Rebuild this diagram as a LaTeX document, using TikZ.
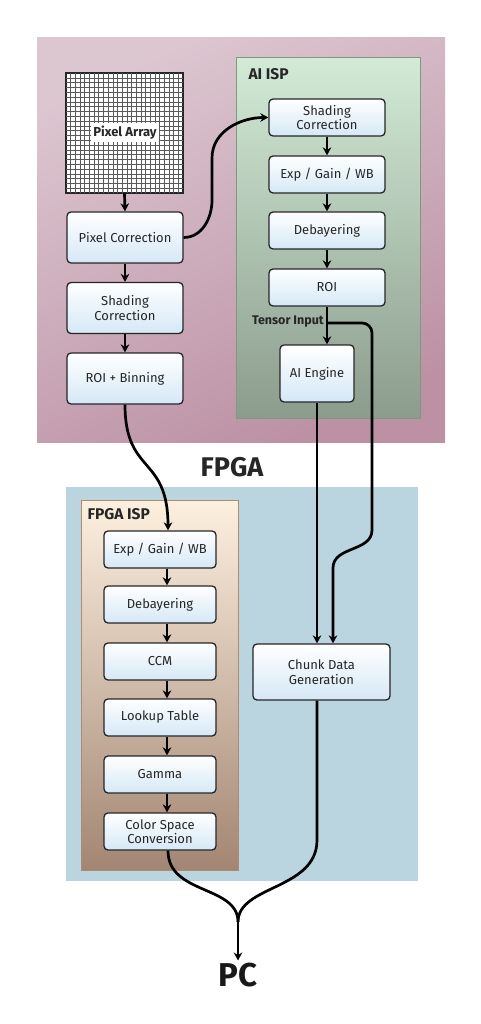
\documentclass[tikz,border=0pt]{standalone}
\usepackage{fontspec}
\setmainfont{Fira Sans}
\usetikzlibrary{arrows.meta}
\definecolor{pinkA}{HTML}{DCC6D0}
\definecolor{pinkB}{HTML}{BC91A4}
\definecolor{aiA}{HTML}{D2EAD6}
\definecolor{aiB}{HTML}{8C9C8C}
\definecolor{aiBorder}{HTML}{7E9882}
\definecolor{bluebg}{HTML}{BAD4E0}
\definecolor{fA}{HTML}{FDF0DF}
\definecolor{fB}{HTML}{A38573}
\definecolor{fBorder}{HTML}{B08A6E}
\definecolor{boxB}{HTML}{D5E8F6}
\tikzset{
  stepbox/.style={draw=black!85, line width=1.3, rounded corners=4, top color=white, bottom color=boxB,
    align=center, font=\fontsize{13}{14.5}\selectfont, inner sep=2, text=black!85},
  lcol/.style={stepbox, minimum width=116, minimum height=51},
  acol/.style={stepbox, minimum width=116, minimum height=37},
  fcol/.style={stepbox, minimum width=112, minimum height=37},
  conn/.style={line width=2.7, black, -{Stealth[length=8,width=8.5]}},
  connplain/.style={line width=2.7, black},
  grouplabel/.style={font=\bfseries\fontsize{15.5}{16}\selectfont, text=black!85, anchor=west},
}
\begin{document}
\begin{tikzpicture}[x=1pt,y=-1pt]
\useasboundingbox[fill=white] (0,0) rectangle (481,1024);
% backgrounds
\shade[top color=pinkA, bottom color=pinkB, shading angle=25] (37,38) rectangle (445,442);
\fill[bluebg] (66,487) rectangle (418,881);
\shade[top color=aiA, bottom color=aiB, draw=aiBorder, line width=1] (236,58) rectangle (420,418);
\shade[top color=fA, bottom color=fB, draw=fBorder, line width=1] (81,500) rectangle (238,870);
\node[grouplabel] (ailbl) at (245,74) {AI ISP};
\node[grouplabel] (flbl) at (84,514) {FPGA ISP};
\node[font=\bfseries\fontsize{27}{28}\selectfont, text=black!85] (fpga) at (232,467) {FPGA};
\node[font=\bfseries\fontsize{33}{34}\selectfont, text=black!90] (pc) at (238,975) {PC};
% pixel array
\node[draw=black!85, line width=1.3, fill=white, minimum width=117, minimum height=120, inner sep=0] (PA) at (124.5,133) {};
\foreach \i in {1,...,24} {
  \draw[black!65, line width=0.55] (66+\i*4.68,73) -- (66+\i*4.68,193);
  \draw[black!65, line width=0.55] (66,73+\i*4.8) -- (183,73+\i*4.8);
}
\node[fill=white, inner sep=2.5, font=\bfseries\fontsize{13}{14}\selectfont, text=black!85] (palbl) at (125,132.5) {Pixel Array};
% left column
\node[lcol] (pixc) at (125,237.5) {Pixel Correction};
\node[lcol] (shd1) at (125,308) {Shading\\Correction};
\node[lcol] (roib) at (125,378.5) {ROI + Binning};
% AI column
\node[acol] (ashd) at (327,117.5) {Shading\\Correction};
\node[acol] (aexp) at (327,174.5) {Exp / Gain / WB};
\node[acol] (adeb) at (327,230.5) {Debayering};
\node[acol] (aroi) at (327,287.5) {ROI};
\node[stepbox, minimum width=74, minimum height=57] (aeng) at (317,373.5) {AI Engine};
\node[font=\bfseries\fontsize{12.5}{13}\selectfont, text=black!85, anchor=east, inner sep=1] (tlbl) at (325,322) {Tensor Input};
% FPGA ISP column
\node[fcol] (fexp) at (160,549.5) {Exp / Gain / WB};
\node[fcol] (fdeb) at (160,604.5) {Debayering};
\node[fcol] (fccm) at (160,661.5) {CCM};
\node[fcol] (flut) at (160,717.5) {Lookup Table};
\node[fcol] (fgam) at (160,774.5) {Gamma};
\node[fcol] (fcsc) at (160,831.5) {Color Space\\Conversion};
% chunk
\node[stepbox, minimum width=137, minimum height=56] (chunk) at (321.5,672) {Chunk Data\\Generation};
% connectors
\draw[conn] (PA.south) -- (pixc.north);
\draw[conn] (pixc) -- (shd1);
\draw[conn] (shd1) -- (roib);
\draw[conn] (pixc.east) to[out=0,in=-90] (212,200) -- (212,158) to[out=90,in=180] (ashd.west);
\draw[conn] (ashd) -- (aexp);
\draw[conn] (aexp) -- (adeb);
\draw[conn] (adeb) -- (aroi);
\draw[conn] (aroi.south) -- ([xshift=10]aeng.north);
\coordinate (tb) at (327,323);
\coordinate (tc) at (372,323);
\coordinate (td) at (372,530);
\coordinate (te) at (333,568);
\draw[connplain, rounded corners=10] (tb) -- (tc) -- (td);
\draw[conn] (td) .. controls (372,552) and (333,546) .. (te) -- ([xshift=11.5]chunk.north);
\draw[conn] (aeng.south) -- ([xshift=-4.5]chunk.north);
\draw[conn] (roib.south) .. controls (125,475) and (168,455) .. ([xshift=8]fexp.north);
\draw[conn] ([xshift=7]fexp.south) -- ([xshift=7]fdeb.north);
\draw[conn] ([xshift=7]fdeb.south) -- ([xshift=7]fccm.north);
\draw[conn] ([xshift=7]fccm.south) -- ([xshift=7]flut.north);
\draw[conn] ([xshift=7]flut.south) -- ([xshift=7]fgam.north);
\draw[conn] ([xshift=7]fgam.south) -- ([xshift=7]fcsc.north);
\coordinate (m) at (238,922);
\draw[connplain] ([xshift=8]fcsc.south) .. controls (168,895) and (238,885) .. (m);
\draw[connplain] ([xshift=-4.5]chunk.south) -- (317,840) .. controls (317,890) and (238,885) .. (m);
\draw[conn] (m) -- ([yshift=-1]pc.north);
\end{tikzpicture}
\end{document}
